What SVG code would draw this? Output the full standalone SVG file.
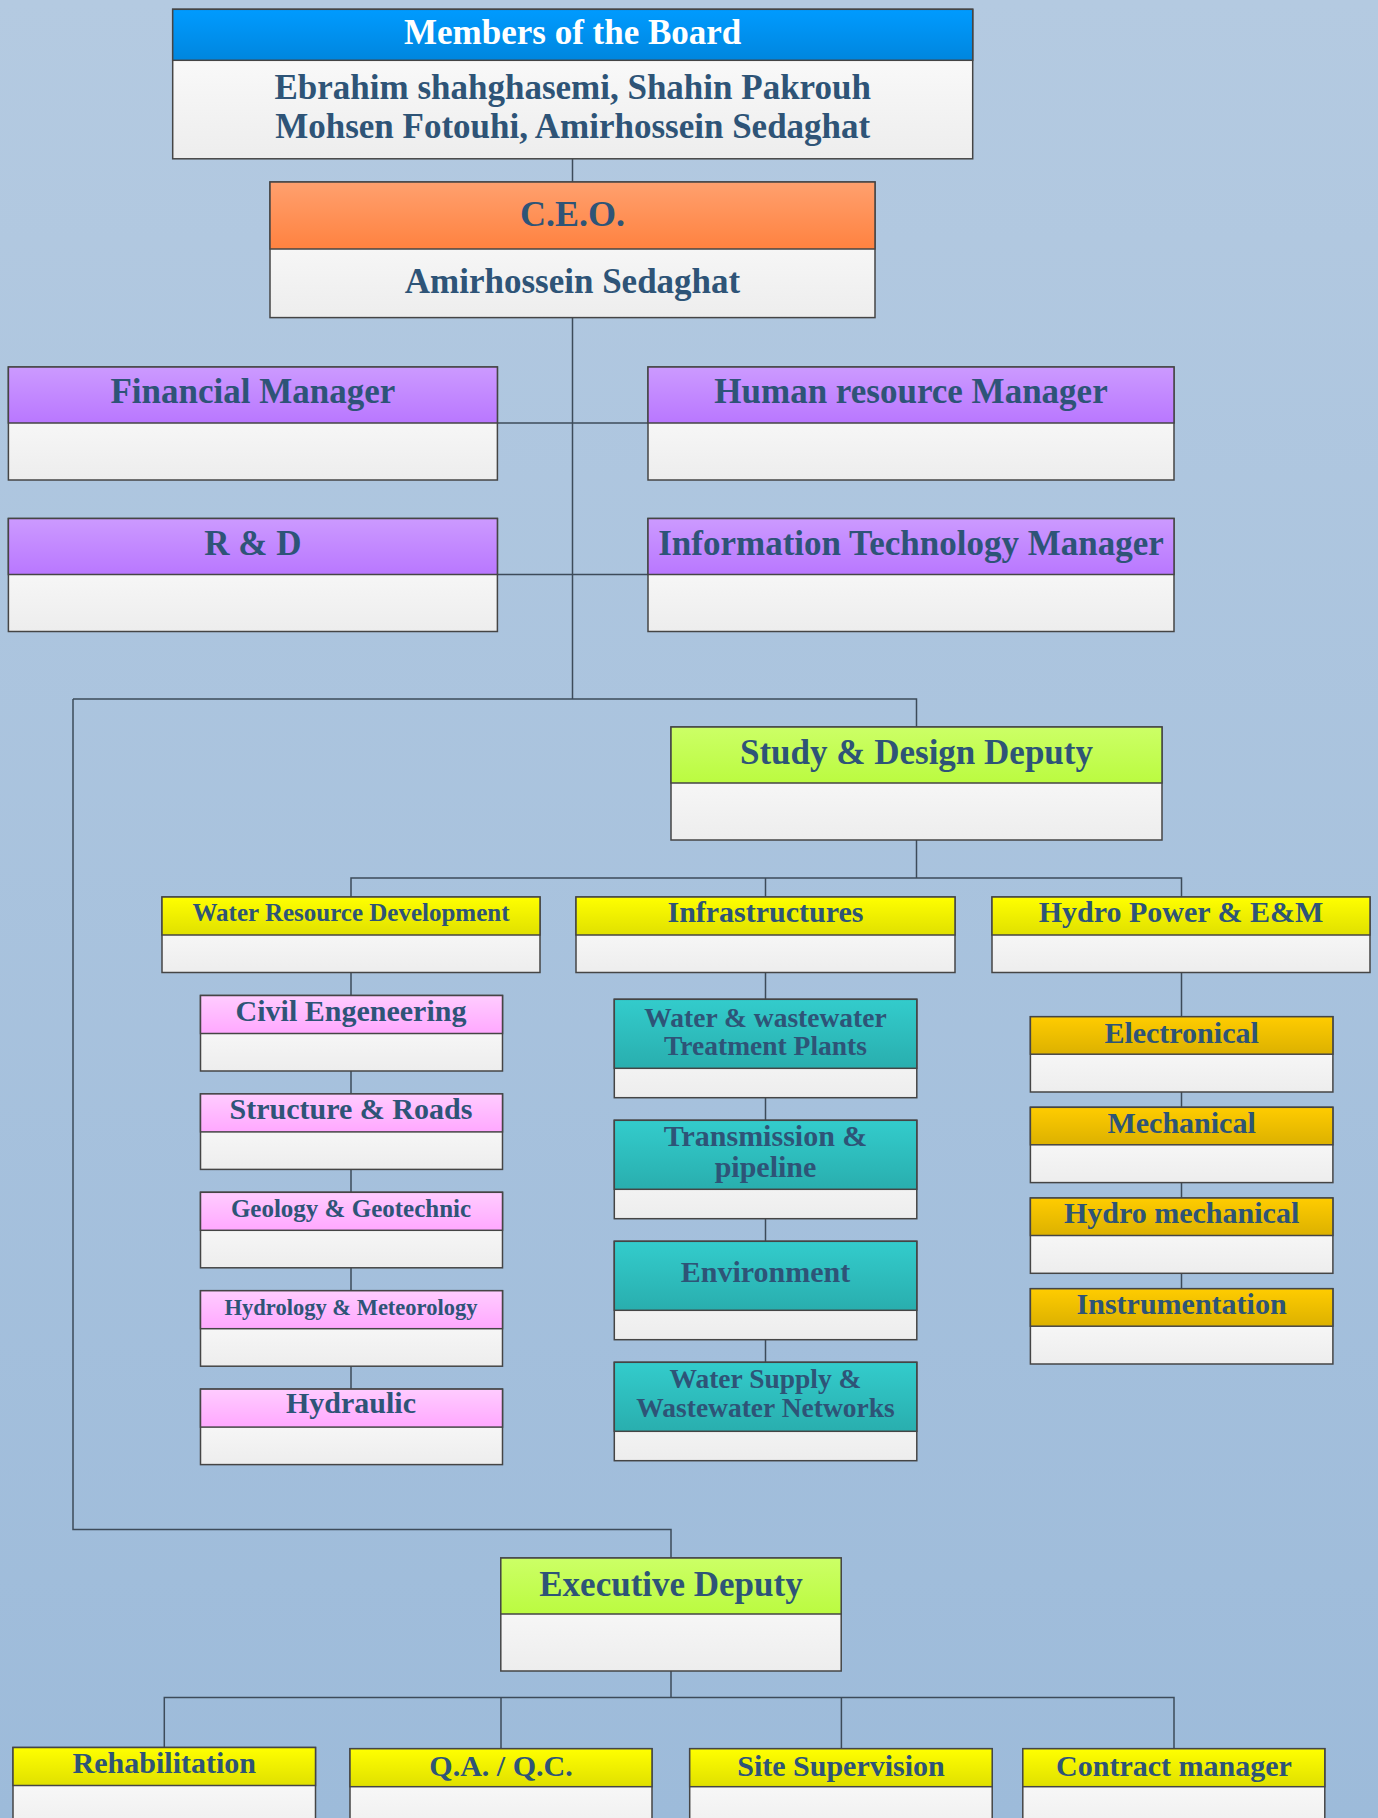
<svg xmlns="http://www.w3.org/2000/svg" width="1378" height="1818" viewBox="0 0 1378 1818">
<defs>
<linearGradient id="bg" x1="0" y1="0" x2="0" y2="1"><stop offset="0" stop-color="#b4cae1"/><stop offset="1" stop-color="#9dbbda"/></linearGradient>
<linearGradient id="gBody" x1="0" y1="0" x2="0" y2="1"><stop offset="0" stop-color="#ffffff"/><stop offset="1" stop-color="#ededed"/></linearGradient>
<linearGradient id="gBlue" x1="0" y1="0" x2="0" y2="1"><stop offset="0" stop-color="#009bff"/><stop offset="1" stop-color="#0086de"/></linearGradient>
<linearGradient id="gOrange" x1="0" y1="0" x2="0" y2="1"><stop offset="0" stop-color="#ffa06e"/><stop offset="1" stop-color="#ff8240"/></linearGradient>
<linearGradient id="gPurple" x1="0" y1="0" x2="0" y2="1"><stop offset="0" stop-color="#cc9aff"/><stop offset="1" stop-color="#b977ff"/></linearGradient>
<linearGradient id="gGreen" x1="0" y1="0" x2="0" y2="1"><stop offset="0" stop-color="#ccff66"/><stop offset="1" stop-color="#bbfb40"/></linearGradient>
<linearGradient id="gYellow" x1="0" y1="0" x2="0" y2="1"><stop offset="0" stop-color="#ffff00"/><stop offset="1" stop-color="#e0e000"/></linearGradient>
<linearGradient id="gPink" x1="0" y1="0" x2="0" y2="1"><stop offset="0" stop-color="#ffccff"/><stop offset="1" stop-color="#ffa8ff"/></linearGradient>
<linearGradient id="gTeal" x1="0" y1="0" x2="0" y2="1"><stop offset="0" stop-color="#33cccc"/><stop offset="1" stop-color="#29aeae"/></linearGradient>
<linearGradient id="gGold" x1="0" y1="0" x2="0" y2="1"><stop offset="0" stop-color="#ffcc00"/><stop offset="1" stop-color="#dcb100"/></linearGradient>
</defs>
<style>
.body{fill:url(#gBody);stroke:#454545;stroke-width:1.5}
.hdr{stroke:#454545;stroke-width:1.5}
.conn{fill:none;stroke:#3d4b5a;stroke-width:1.5}
.t{font-family:"Liberation Serif","Times New Roman",serif;font-weight:bold;fill:#2e5477;text-anchor:middle}
.w{fill:#ffffff}
.f35{font-size:35px}
.f30{font-size:30px}
.f27{font-size:27.5px}
.f25{font-size:25px}
.f22{font-size:22.5px}
</style>
<rect x="0" y="0" width="1378" height="1818" fill="url(#bg)"/>

<g id="connectors">
<path class="conn" d="M572.5 158.8V182"/>
<path class="conn" d="M572.5 317.6V699"/>
<path class="conn" d="M497.3 423H648"/>
<path class="conn" d="M497.3 574.5H648"/>
<path class="conn" d="M73 699H916.5V727"/>
<path class="conn" d="M916.5 840V878"/>
<path class="conn" d="M351 897V878H1181.5V897"/>
<path class="conn" d="M765.5 878V897"/>
<path class="conn" d="M351 972.5V1389"/>
<path class="conn" d="M765.5 972.5V1362.3"/>
<path class="conn" d="M1181.5 972.5V1288.7"/>
<path class="conn" d="M73 699V1529.5H671V1558"/>
<path class="conn" d="M671 1671V1697.5"/>
<path class="conn" d="M164.3 1747.5V1697.5H1174V1748.7"/>
<path class="conn" d="M501 1697.5V1748.7"/>
<path class="conn" d="M841.4 1697.5V1748.7"/>
</g>

<g id="board">
<rect class="body" x="172.7" y="9.3" width="800" height="149.5"/>
<rect class="hdr" x="172.7" y="9.3" width="800" height="51" fill="url(#gBlue)" stroke="#2d4a62"/>
<text class="t w f35" x="572.7" y="43.5">Members of the Board</text>
<text class="t f35" x="572.7" y="99">Ebrahim shahghasemi, Shahin Pakrouh</text>
<text class="t f35" x="572.7" y="138">Mohsen Fotouhi, Amirhossein Sedaghat</text>
</g>

<g id="ceo">
<rect class="body" x="270" y="182" width="605" height="135.6"/>
<rect class="hdr" x="270" y="182" width="605" height="67" fill="url(#gOrange)"/>
<text class="t" style="font-size:36px" x="572.5" y="226">C.E.O.</text>
<text class="t f35" x="572.5" y="292.5">Amirhossein Sedaghat</text>
</g>

<g id="financial">
<rect class="body" x="8.4" y="367" width="489" height="113"/>
<rect class="hdr" x="8.4" y="367" width="489" height="56" fill="url(#gPurple)"/>
<text class="t f35" x="252.9" y="403">Financial Manager</text>
</g>
<g id="hr">
<rect class="body" x="648" y="367" width="526" height="113"/>
<rect class="hdr" x="648" y="367" width="526" height="56" fill="url(#gPurple)"/>
<text class="t f35" x="911" y="403">Human resource Manager</text>
</g>
<g id="rd">
<rect class="body" x="8.4" y="518.5" width="489" height="113"/>
<rect class="hdr" x="8.4" y="518.5" width="489" height="56" fill="url(#gPurple)"/>
<text class="t f35" x="252.9" y="555">R &amp; D</text>
</g>
<g id="it">
<rect class="body" x="648" y="518.5" width="526" height="113"/>
<rect class="hdr" x="648" y="518.5" width="526" height="56" fill="url(#gPurple)"/>
<text class="t f35" x="911" y="555">Information Technology Manager</text>
</g>

<g id="study">
<rect class="body" x="671" y="727" width="491" height="113"/>
<rect class="hdr" x="671" y="727" width="491" height="56" fill="url(#gGreen)"/>
<text class="t f35" x="916.5" y="763.5">Study &amp; Design Deputy</text>
</g>

<g id="wrd">
<rect class="body" x="162" y="897" width="378" height="75.5"/>
<rect class="hdr" x="162" y="897" width="378" height="38" fill="url(#gYellow)"/>
<text class="t f25" x="351" y="920.5">Water Resource Development</text>
</g>
<g id="infra">
<rect class="body" x="576" y="897" width="379" height="75.5"/>
<rect class="hdr" x="576" y="897" width="379" height="38" fill="url(#gYellow)"/>
<text class="t f30" x="765.5" y="922">Infrastructures</text>
</g>
<g id="hydropower">
<rect class="body" x="992" y="897" width="378" height="75.5"/>
<rect class="hdr" x="992" y="897" width="378" height="38" fill="url(#gYellow)"/>
<text class="t f30" x="1181" y="922">Hydro Power &amp; E&amp;M</text>
</g>

<g id="civil">
<rect class="body" x="200.5" y="995.5" width="302" height="75.5"/>
<rect class="hdr" x="200.5" y="995.5" width="302" height="38" fill="url(#gPink)"/>
<text class="t f30" x="351" y="1020.7">Civil Engeneering</text>
</g>
<g id="structure">
<rect class="body" x="200.5" y="1093.9" width="302" height="75.5"/>
<rect class="hdr" x="200.5" y="1093.9" width="302" height="38" fill="url(#gPink)"/>
<text class="t f30" x="351" y="1119.3">Structure &amp; Roads</text>
</g>
<g id="geology">
<rect class="body" x="200.5" y="1192.3" width="302" height="75.5"/>
<rect class="hdr" x="200.5" y="1192.3" width="302" height="38" fill="url(#gPink)"/>
<text class="t f25" x="351" y="1216.7">Geology &amp; Geotechnic</text>
</g>
<g id="hydrology">
<rect class="body" x="200.5" y="1290.7" width="302" height="75.5"/>
<rect class="hdr" x="200.5" y="1290.7" width="302" height="38" fill="url(#gPink)"/>
<text class="t f22" x="351" y="1315">Hydrology &amp; Meteorology</text>
</g>
<g id="hydraulic">
<rect class="body" x="200.5" y="1389.1" width="302" height="75.5"/>
<rect class="hdr" x="200.5" y="1389.1" width="302" height="38" fill="url(#gPink)"/>
<text class="t f30" x="351" y="1413.3">Hydraulic</text>
</g>

<g id="treatment">
<rect class="body" x="614.3" y="999.3" width="302.5" height="98.4"/>
<rect class="hdr" x="614.3" y="999.3" width="302.5" height="69" fill="url(#gTeal)"/>
<text class="t f27" x="765.5" y="1026.7">Water &amp; wastewater</text>
<text class="t f27" x="765.5" y="1055">Treatment Plants</text>
</g>
<g id="transmission">
<rect class="body" x="614.3" y="1120.3" width="302.5" height="98.4"/>
<rect class="hdr" x="614.3" y="1120.3" width="302.5" height="69" fill="url(#gTeal)"/>
<text class="t f30" x="765.5" y="1145.7">Transmission &amp;</text>
<text class="t f30" x="765.5" y="1176.7">pipeline</text>
</g>
<g id="environment">
<rect class="body" x="614.3" y="1241.3" width="302.5" height="98.4"/>
<rect class="hdr" x="614.3" y="1241.3" width="302.5" height="69" fill="url(#gTeal)"/>
<text class="t f30" x="765.5" y="1281.7">Environment</text>
</g>
<g id="watersupply">
<rect class="body" x="614.3" y="1362.3" width="302.5" height="98.4"/>
<rect class="hdr" x="614.3" y="1362.3" width="302.5" height="69" fill="url(#gTeal)"/>
<text class="t f27" x="765.5" y="1388.3">Water Supply &amp;</text>
<text class="t f27" x="765.5" y="1416.7">Wastewater Networks</text>
</g>

<g id="electronical">
<rect class="body" x="1030.4" y="1016.7" width="302.5" height="75.3"/>
<rect class="hdr" x="1030.4" y="1016.7" width="302.5" height="37.5" fill="url(#gGold)"/>
<text class="t f30" x="1181.6" y="1042.7">Electronical</text>
</g>
<g id="mechanical">
<rect class="body" x="1030.4" y="1107.3" width="302.5" height="75.3"/>
<rect class="hdr" x="1030.4" y="1107.3" width="302.5" height="37.5" fill="url(#gGold)"/>
<text class="t f30" x="1181.6" y="1133.3">Mechanical</text>
</g>
<g id="hydromechanical">
<rect class="body" x="1030.4" y="1198" width="302.5" height="75.3"/>
<rect class="hdr" x="1030.4" y="1198" width="302.5" height="37.5" fill="url(#gGold)"/>
<text class="t f30" x="1181.6" y="1223.3">Hydro mechanical</text>
</g>
<g id="instrumentation">
<rect class="body" x="1030.4" y="1288.7" width="302.5" height="75.3"/>
<rect class="hdr" x="1030.4" y="1288.7" width="302.5" height="37.5" fill="url(#gGold)"/>
<text class="t f30" x="1181.6" y="1314">Instrumentation</text>
</g>

<g id="executive">
<rect class="body" x="500.8" y="1558" width="340.4" height="113"/>
<rect class="hdr" x="500.8" y="1558" width="340.4" height="56" fill="url(#gGreen)"/>
<text class="t f35" x="671" y="1596">Executive Deputy</text>
</g>

<g id="rehabilitation">
<rect class="body" x="13" y="1747.5" width="302.5" height="90"/>
<rect class="hdr" x="13" y="1747.5" width="302.5" height="38" fill="url(#gYellow)"/>
<text class="t f30" x="164.3" y="1773">Rehabilitation</text>
</g>
<g id="qaqc">
<rect class="body" x="350" y="1748.7" width="302" height="90"/>
<rect class="hdr" x="350" y="1748.7" width="302" height="38" fill="url(#gYellow)"/>
<text class="t f30" x="501" y="1776">Q.A. / Q.C.</text>
</g>
<g id="sitesupervision">
<rect class="body" x="689.7" y="1748.7" width="302.5" height="90"/>
<rect class="hdr" x="689.7" y="1748.7" width="302.5" height="38" fill="url(#gYellow)"/>
<text class="t f30" x="841" y="1776">Site Supervision</text>
</g>
<g id="contract">
<rect class="body" x="1022.8" y="1748.7" width="302" height="90"/>
<rect class="hdr" x="1022.8" y="1748.7" width="302" height="38" fill="url(#gYellow)"/>
<text class="t f30" x="1174" y="1776">Contract manager</text>
</g>
</svg>
